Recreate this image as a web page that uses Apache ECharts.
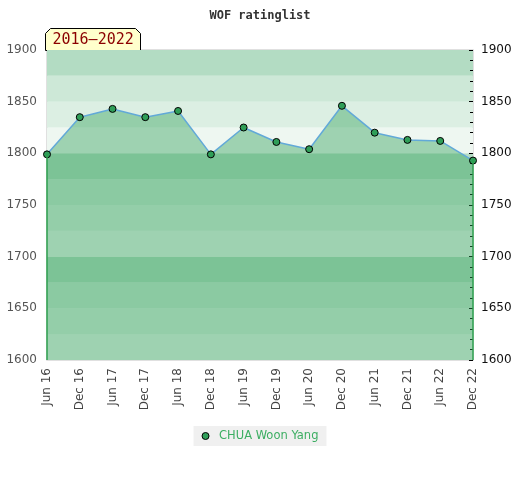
<!DOCTYPE html>
<html>
<head>
<meta charset="utf-8">
<script src="https://cdn.jsdelivr.net/npm/echarts@6/dist/echarts.min.js"></script>
<style>
  html, body { margin: 0; padding: 0; background: #fff; }
  #main { width: 520px; height: 480px; }
</style>
</head>
<body>
<div id="main"></div>
<script>
// rating history
var months = ['Jun 16', 'Dec 16', 'Jun 17', 'Dec 17', 'Jun 18', 'Dec 18', 'Jun 19',
              'Dec 19', 'Jun 20', 'Dec 20', 'Jun 21', 'Dec 21', 'Jun 22', 'Dec 22'];
var ratings = [1799, 1835, 1843, 1835, 1841, 1799, 1825, 1811, 1804, 1846, 1820, 1813, 1812, 1793];
var playerName = 'CHUA Woon Yang';
var periodLabel = '2016\u20132022';

// y range and background bands (bottom to top, 25 points each)
var yMin = 1600, yMax = 1900;
var bandColors = ['#eef7f1', '#dcefe3', '#cde8d7', '#b3dcc3',
                  '#eef7f1', '#dcefe3', '#cde8d7', '#b3dcc3',
                  '#eef7f1', '#dcefe3', '#cde8d7', '#b3dcc3'];

var plain = function(v) { return String(v); };

var init_chart = function() {
    var myChart = echarts.init(document.getElementById('main'));
    var last = months.length - 1;

    var option = {
        animation: false,
        title: {
            text: 'WOF ratinglist',
            left: 'center',
            top: 5,
            textStyle: {fontFamily: 'DejaVu Sans Mono', fontSize: 12, fontWeight: 'bold', color: '#333'}
        },
        legend: {
            top: 426,
            left: 'center',
            backgroundColor: '#f0f0f0',
            padding: [4, 8, 4, 8],
            itemWidth: 7,
            itemHeight: 7,
            itemGap: 6,
            textStyle: {color: '#3cae62', fontSize: 11.5, fontFamily: 'DejaVu Sans', padding: [0, 0, 0, 5]},
            data: [{name: playerName, icon: 'circle',
                    itemStyle: {color: '#2f9e58', borderColor: '#000', borderWidth: 1}}]
        },
        grid: {
            left: 47, right: 47, top: 50, bottom: 120,
            show: true,
            borderColor: '#d6d6d6',
            borderWidth: 1.5
        },
        xAxis: {
            type: 'category',
            data: months,
            boundaryGap: false,
            axisLine: {show: false},
            axisTick: {show: false},
            axisLabel: {rotate: 90, color: '#444', fontSize: 12, fontFamily: 'DejaVu Sans', margin: 8, interval: 0}
        },
        yAxis: [{
            type: 'value', min: yMin, max: yMax, interval: 50, position: 'left',
            axisLine: {show: false},
            axisTick: {show: false},
            splitLine: {show: false},
            axisLabel: {color: '#555', fontSize: 12, fontFamily: 'DejaVu Sans', margin: 10, formatter: plain}
        }, {
            type: 'value', min: yMin, max: yMax, interval: 50, position: 'right',
            axisLine: {show: false},
            axisTick: {show: true, inside: true, length: 4, lineStyle: {color: '#000'}},
            minorTick: {show: true, splitNumber: 5, length: 3, lineStyle: {color: '#000'}},
            splitLine: {show: false},
            axisLabel: {color: '#111', fontSize: 12, fontFamily: 'DejaVu Sans', margin: 8, formatter: plain}
        }, {
            // hidden axis only for the 25-point bands
            type: 'value', min: yMin, max: yMax, interval: 25, position: 'left', show: true,
            axisLine: {show: false}, axisTick: {show: false}, axisLabel: {show: false},
            splitLine: {show: false},
            splitArea: {show: true, areaStyle: {color: bandColors}}
        }],
        series: [{
            name: playerName,
            type: 'line',
            data: ratings,
            z: 3,
            symbol: 'circle',
            symbolSize: 7,
            itemStyle: {color: '#2f9e58', borderColor: '#000', borderWidth: 1},
            lineStyle: {color: '#62a9d8', width: 1.5},
            areaStyle: {color: 'rgba(48,160,88,0.6)', origin: 'start'},
            markLine: {
                silent: true,
                symbol: 'none',
                label: {show: false},
                lineStyle: {color: '#2ea04f', width: 1.5, type: 'solid'},
                data: [
                    [{coord: [months[0], yMin]}, {coord: [months[0], ratings[0]]}],
                    [{coord: [months[last], yMin]}, {coord: [months[last], ratings[last]]}]
                ]
            }
        }],
        graphic: [{
            type: 'group',
            left: 45,
            top: 28,
            children: [{
                type: 'polygon',
                shape: {points: [[0, 22], [0, 5], [5, 0], [90, 0], [95, 5], [95, 22]]},
                style: {fill: '#ffffcc', stroke: '#000', lineWidth: 1}
            }, {
                type: 'text',
                left: 7,
                top: 4,
                style: {text: periodLabel, fill: '#8b0000', font: '15px "DejaVu Sans Mono"'}
            }]
        }]
    };

    myChart.setOption(option);
}

init_chart();
</script>
</body>
</html>
